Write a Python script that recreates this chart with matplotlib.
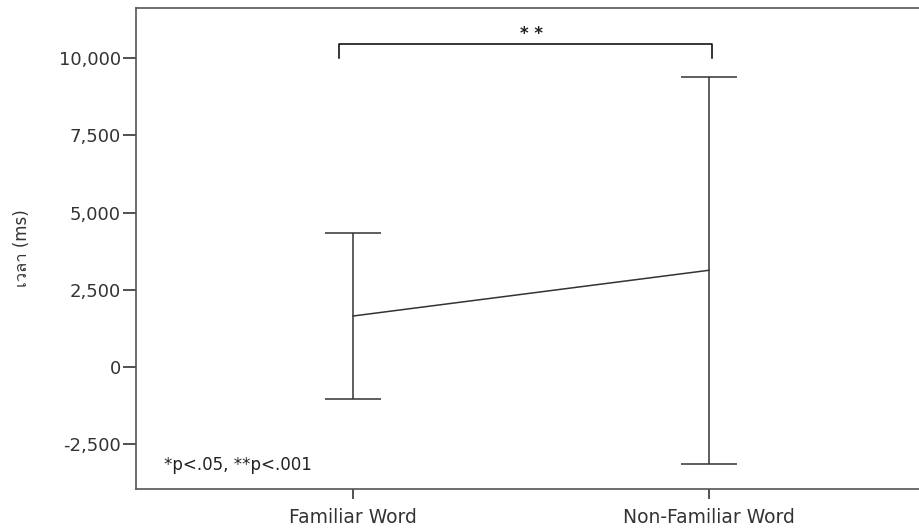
import matplotlib
matplotlib.use("Agg")
import matplotlib.pyplot as plt
from matplotlib import font_manager
import numpy as np

categories = ["Familiar Word", "Non-Familiar Word"]
means = [1650, 3130]
errors = [2690, 6270]
y_ticks = [-2500, 0, 2500, 5000, 7500, 10000]
y_label = "เวลา (ms)"
sig_label = "* *"
note = "*p<.05, **p<.001"

# DejaVu first, Thai-capable family as fallback for the Thai glyphs
installed = {f.name for f in font_manager.fontManager.ttflist}
thai = next((n for n in ["Loma", "Sarabun", "Tahoma", "Kanit"] if n in installed), None)
fams = ["DejaVu Sans", thai] if thai else ["DejaVu Sans"]

fig = plt.figure(figsize=(9.2, 5.28), dpi=100)
ax = fig.add_axes([136 / 920, 1 - 489 / 528, 790 / 920, 481 / 528])

x = np.arange(len(categories))
ax.errorbar(x, means, yerr=errors, color="#333333", lw=1.1,
            capsize=20.5, capthick=1.1, elinewidth=1.1)

ax.set_xlim(-0.61, 1.61)
ax.set_ylim(-3950, 11620)
ax.set_xticks(x)
ax.set_xticklabels(categories, fontsize=13.5, color="#333333")
ax.set_yticks(y_ticks)
ax.set_yticklabels([f"{v:,}" for v in y_ticks], fontsize=13, color="#333333")
ax.tick_params(width=1.2, color="#333333")
ax.tick_params(axis="x", length=7, pad=7)
ax.tick_params(axis="y", length=9.5, pad=1.5)
ax.spines["right"].set_visible(False)
for s in ["left", "top", "bottom"]:
    ax.spines[s].set_color("#555555")
    ax.spines[s].set_linewidth(1.2)

ax.set_ylabel(y_label, fontsize=12, family=fams, labelpad=20, color="#333333")

# significance bracket
ax.plot([-0.04, -0.04, 1.01, 1.01], [10000, 10450, 10450, 10000],
        color="black", lw=1.1)
ax.text(0.5, 10480, sig_label, ha="center", va="bottom", fontsize=12,
        fontweight="bold", color="#222222")
ax.text(0.035, 0.04, note, transform=ax.transAxes, fontsize=12,
        color="#222222")

fig.savefig("out.png", dpi=100)
